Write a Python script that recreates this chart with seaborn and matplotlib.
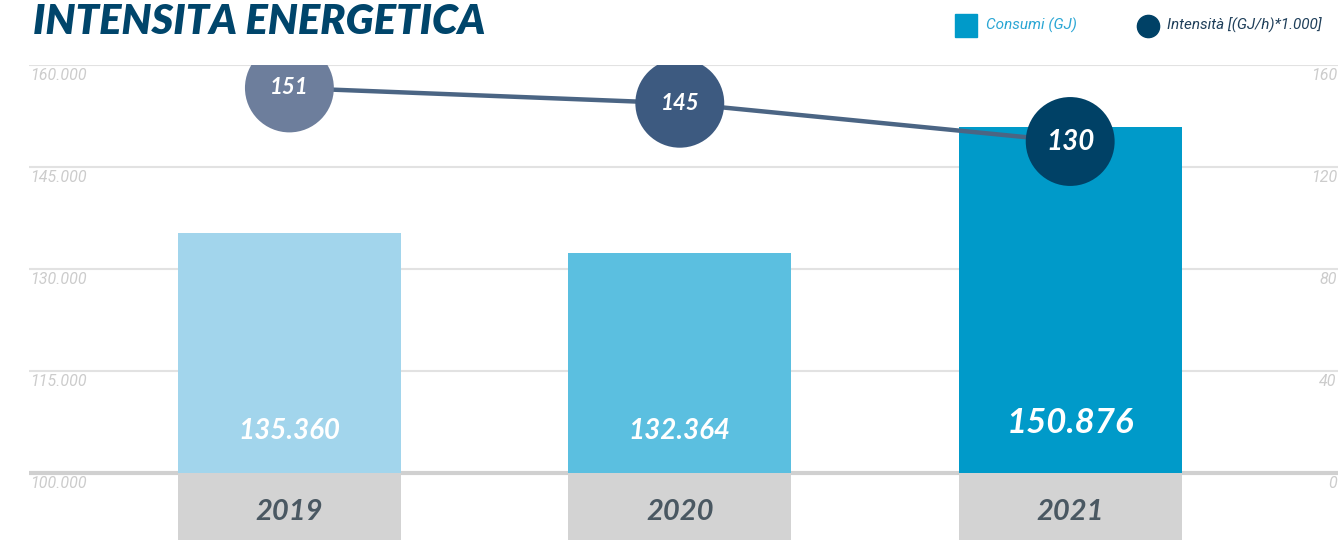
import matplotlib
matplotlib.use("Agg")
import matplotlib.pyplot as plt
from matplotlib.patches import Rectangle
from matplotlib.lines import Line2D
import seaborn as sns
import pandas as pd

# data
years = ["2019", "2020", "2021"]
consumi = [135360, 132364, 150876]
consumi_labels = ["135.360", "132.364", "150.876"]
intensita = [151, 145, 130]
left_ticks = [100000, 115000, 130000, 145000, 160000]
left_tick_labels = ["100.000", "115.000", "130.000", "145.000", "160.000"]
right_ticks = [0, 40, 80, 120, 160]

bar_colors = ["#a2d5ec", "#5bbfe0", "#009ac9"]
dot_colors = ["#6d7e9c", "#3d5a80", "#004166"]
line_color = "#4b6584"
tick_color = "#cccccc"
grid_color = "#e2e2e2"
base_color = "#d3d3d3"
title_color = "#00456b"

sns.set_theme(style="white")
plt.rcParams["font.family"] = ["Roboto", "DejaVu Sans"]

W, H = 1342, 540
fig = plt.figure(figsize=(W / 100, H / 100), dpi=100)

# axes spans from the 160 gridline down to the bottom edge
ax_top_px, ax_left_px, ax_right_px = 65, 29, 1338
ax = fig.add_axes([ax_left_px / W, 0, (ax_right_px - ax_left_px) / W, (H - ax_top_px) / H])

df = pd.DataFrame({"anno": years, "consumi": consumi, "intensita": intensita})

px_per_k = 408 / 60000.0
left_bottom = 100000 - (H - 473) / px_per_k
right_bottom = 0 - (H - 473) / (408 / 160.0)

x0 = -0.667
x1 = 2.686

# grid lines
for i, t in enumerate(left_ticks):
    if i == 0:
        ax.axhline(t, color="#d0d0d0", lw=3, zorder=1)
    else:
        ax.axhline(t, color=grid_color, lw=1.5, zorder=0)

bar_w = 0.571
# grey base blocks below the zero line
ax.bar(range(len(years)), [100000 - left_bottom] * len(years), bottom=left_bottom,
       width=bar_w, color=base_color, zorder=2, linewidth=0)

n_before = len(ax.patches)
sns.barplot(data=df, x="anno", y="consumi", hue="anno", palette=bar_colors,
            saturation=1, width=bar_w, ax=ax, legend=False, zorder=2, linewidth=0)
# bars start at 100.000
for p in ax.patches[n_before:]:
    p.set_y(100000)
    p.set_height(p.get_height() - 100000)
ax.set_xlim(x0, x1)
ax.set_ylim(left_bottom, 160000)

hand = ["Lato", "DejaVu Sans"]
for i, lab in enumerate(consumi_labels):
    big = i == 2
    ax.text(i, 100000 + (42 if not big else 50) / px_per_k, lab, ha="center", va="center",
            color="white", fontsize=25 if big else 20, fontweight="bold", fontstyle="italic",
            family=hand, zorder=5)
    ax.text(i, 100000 - 39 / px_per_k, years[i], ha="center", va="center",
            color="#4a5862", fontsize=21, fontweight="bold", fontstyle="italic",
            family=hand, zorder=5)

ax.set_xticks([])
ax.set_yticks([])
ax.set_xlabel("")
ax.set_ylabel("")
for s in ax.spines.values():
    s.set_visible(False)

# left tick labels, set just under each grid line
for t, lab in zip(left_ticks, left_tick_labels):
    ax.text(x0 + 0.003, t - 11 / px_per_k, lab, ha="left", va="center", color=tick_color,
            fontsize=11.5, fontstyle="italic", zorder=1)

# secondary axis for intensity
ax2 = ax.twinx()
ax2.set_ylim(right_bottom, 160)
ax2.set_xlim(x0, x1)
r_px = 408 / 160.0
for t in right_ticks:
    ax2.text(x1 - 0.003, t - 11 / r_px, str(t), ha="right", va="center", color=tick_color,
             fontsize=11.5, fontstyle="italic", zorder=1)

dfl = pd.DataFrame({"x": range(len(years)), "intensita": intensita, "anno": years})
sns.lineplot(data=dfl, x="x", y="intensita", color=line_color, lw=3.2, ax=ax2, zorder=3)
sns.scatterplot(data=dfl, x="x", y="intensita", hue="anno", palette=dot_colors,
                s=64 ** 2, linewidth=0, ax=ax2, legend=False, zorder=4)
for i, v in enumerate(intensita):
    big = i == 2
    ax2.text(i, v, str(v), ha="center", va="center", color="white",
             fontsize=20 if big else 16, fontweight="bold", fontstyle="italic",
             family=hand, zorder=6)
ax2.set_xlim(x0, x1)
ax2.set_yticks([])
ax2.set_xticks([])
ax2.set_xlabel("")
ax2.set_ylabel("")
for s in ax2.spines.values():
    s.set_visible(False)

# title
fig.text(33 / W, 1 - 22 / H, "INTENSITA ENERGETICA", ha="left", va="center",
         color=title_color, fontsize=30, fontweight="heavy", fontstyle="italic",
         family=hand)

# legend
fig.patches.append(Rectangle((955 / W, 1 - 37 / H), 22 / W, 23 / H,
                             transform=fig.transFigure, color="#009ac9"))
fig.text(986 / W, 1 - 25 / H, "Consumi (GJ)", ha="left", va="center",
         color="#2aa6d4", fontsize=11, fontstyle="italic")
fig.lines.append(Line2D([1148 / W], [1 - 26 / H], marker="o", markersize=16,
                        color="#004166", transform=fig.transFigure, linestyle="none"))
fig.text(1167 / W, 1 - 25 / H, "Intensità [(GJ/h)*1.000]", ha="left", va="center",
         color="#1f3f5a", fontsize=11, fontstyle="italic")

fig.savefig("out.png", dpi=100, facecolor="white")
